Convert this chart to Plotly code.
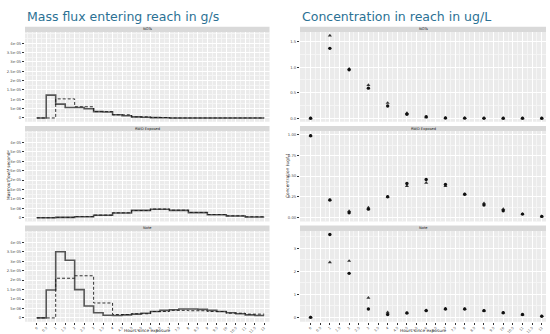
import plotly.graph_objects as go

W, H = 550, 334

# ---------------- data ----------------
HOURS = [0, 0.5, 1, 1.5, 2, 2.5, 3, 3.5, 4, 4.5, 5, 5.5, 6, 6.5, 7, 7.5,
         8, 8.5, 9, 9.5, 10, 10.5, 11, 11.5, 12]
HOUR_LABELS = ["0", "0.5", "1", "1.5", "2", "2.5", "3", "3.5", "4", "4.5", "5",
               "5.5", "6", "6.5", "7", "7.5", "8", "8.5", "9", "9.5", "10",
               "10.5", "11", "11.5", "12"]
SAMPLE_HOURS = [0, 1, 2, 3, 4, 5, 6, 7, 8, 9, 10, 11, 12]

PANELS = ["NOTs", "RWD Exposed", "Note"]

# mass flux entering reach (g/s), step values starting at each half hour
flux_model_1 = [0, 12.2e-6, 7.4e-6, 5.6e-6, 5.6e-6, 4.9e-6, 3.4e-6, 3.2e-6, 1.7e-6,
                1.2e-6, 0.6e-6, 0.4e-6, 0.2e-6, 0.1e-6, 0, 0, 0, 0, 0, 0, 0, 0, 0, 0, 0]
flux_obs_1 = [0, 0, 10.2e-6, 10.2e-6, 6.0e-6, 6.0e-6, 3.4e-6, 3.4e-6, 1.7e-6, 1.7e-6,
              0.6e-6, 0.6e-6, 0.25e-6, 0.25e-6, 0, 0, 0, 0, 0, 0, 0, 0, 0, 0, 0]
flux_model_2 = [0, 0, 0.2e-6, 0.2e-6, 0.5e-6, 0.5e-6, 1.3e-6, 1.3e-6, 2.5e-6, 2.5e-6,
                3.9e-6, 3.9e-6, 4.5e-6, 4.5e-6, 3.9e-6, 3.9e-6, 2.7e-6, 2.7e-6,
                1.6e-6, 1.6e-6, 0.9e-6, 0.9e-6, 0.4e-6, 0.4e-6, 0.4e-6]
flux_obs_2 = [0, 0, 0.2e-6, 0.2e-6, 0.6e-6, 0.6e-6, 1.4e-6, 1.4e-6, 2.6e-6, 2.6e-6,
              3.8e-6, 3.8e-6, 4.6e-6, 4.6e-6, 4.0e-6, 4.0e-6, 2.8e-6, 2.8e-6,
              1.7e-6, 1.7e-6, 1.0e-6, 1.0e-6, 0.5e-6, 0.5e-6, 0.5e-6]
flux_model_3 = [0, 14.8e-6, 35.0e-6, 30.5e-6, 15.0e-6, 6.3e-6, 2.7e-6, 1.4e-6, 1.3e-6,
                1.6e-6, 2.0e-6, 2.5e-6, 3.4e-6, 4.0e-6, 4.3e-6, 4.7e-6, 4.7e-6,
                4.5e-6, 4.0e-6, 3.4e-6, 2.7e-6, 2.2e-6, 1.6e-6, 1.3e-6, 1.3e-6]
flux_obs_3 = [0, 0, 21.0e-6, 21.0e-6, 22.3e-6, 22.3e-6, 7.9e-6, 7.9e-6, 1.8e-6, 1.8e-6,
              2.2e-6, 2.2e-6, 3.4e-6, 3.4e-6, 4.0e-6, 4.0e-6, 3.8e-6, 3.8e-6,
              3.4e-6, 3.4e-6, 2.5e-6, 2.5e-6, 2.0e-6, 2.0e-6, 2.0e-6]

# concentration in reach (ug/L) at hourly samples
conc_a_1 = [0.0, 1.37, 0.95, 0.59, 0.24, 0.08, 0.03, 0.005, 0.003, 0.002, 0.001, 0.0, 0.0]
conc_b_1 = [0.0, 1.62, 0.97, 0.65, 0.30, 0.10, 0.02, 0.005, 0.003, 0.002, 0.001, 0.0, 0.0]
conc_a_2 = [0.99, 0.21, 0.056, 0.10, 0.25, 0.41, 0.46, 0.40, 0.28, 0.15, 0.08, 0.04, 0.012]
conc_b_2 = [0.99, 0.21, 0.077, 0.12, 0.25, 0.38, 0.42, 0.38, 0.28, 0.17, 0.10, 0.04, 0.012]
conc_a_3 = [0.0, 3.6, 1.91, 0.36, 0.12, 0.19, 0.29, 0.36, 0.36, 0.29, 0.20, 0.12, 0.05]
conc_b_3 = [0.0, 2.39, 2.45, 0.85, 0.22, 0.19, 0.31, 0.38, 0.36, 0.29, 0.20, 0.12, 0.05]

FLUX_TICKS = [0, 5e-6, 1e-5, 1.5e-5, 2e-5, 2.5e-5, 3e-5, 3.5e-5, 4e-5]
FLUX_TICK_TEXT = ["0", "5e-06", "1e-05", "1.5e-05", "2e-05", "2.5e-05", "3e-05", "3.5e-05", "4e-05"]
CONC_TICKS = [[0, 0.5, 1.0, 1.5], [0, 0.25, 0.5, 0.75, 1.0], [0, 1, 2, 3]]
CONC_TICK_TEXT = [["0.0", "0.5", "1.0", "1.5"], ["0.00", "0.25", "0.50", "0.75", "1.00"],
                  ["0", "1", "2", "3"]]
CONC_RANGES = [[-0.067, 1.69], [-0.05, 1.047], [-0.19, 3.75]]
CONC_MINOR = [0.25, 0.125, 0.5]

# ---------------- layout helpers ----------------
def px(x):
    return x / W


def py(y):
    return 1 - y / H


PANEL_Y = [(32, 121.7), (131, 221.5), (231, 321.7)]
STRIP_Y = [(26.8, 32), (126, 131), (225.5, 231)]
LEFT_X = (25, 269.5)
RIGHT_X = (300, 546)

PANEL_BG = "#EBEBEB"
STRIP_BG = "#D9D9D9"
TICK_FONT = dict(family="DejaVu Sans", size=3.8, color="#4D4D4D")
XTICK_FONT = dict(family="DejaVu Sans", size=3.4, color="#4D4D4D")

fig = go.Figure()

flux_model = [flux_model_1, flux_model_2, flux_model_3]
flux_obs = [flux_obs_1, flux_obs_2, flux_obs_3]
conc_a = [conc_a_1, conc_a_2, conc_a_3]
conc_b = [conc_b_1, conc_b_2, conc_b_3]

layout = dict(
    width=W, height=H, margin=dict(l=0, r=0, t=0, b=0),
    paper_bgcolor="white", plot_bgcolor="white", showlegend=False,
)
shapes = []
annotations = []

for i in range(3):
    # left column: flux step lines
    lx = i + 1
    rx = i + 4
    xa = "x" if lx == 1 else f"x{lx}"
    ya = "y" if lx == 1 else f"y{lx}"
    fig.add_trace(go.Scatter(x=HOURS, y=flux_model[i], mode="lines", xaxis=xa, yaxis=ya,
                             line=dict(shape="hv", color="#555555", width=1.6)))
    fig.add_trace(go.Scatter(x=HOURS, y=flux_obs[i], mode="lines", xaxis=xa, yaxis=ya,
                             line=dict(shape="hv", color="#1A1A1A", width=0.9, dash="3px,2px")))
    # right column: concentration points
    xb = f"x{rx}"
    yb = f"y{rx}"
    fig.add_trace(go.Scatter(x=SAMPLE_HOURS, y=conc_b[i], mode="markers", xaxis=xb, yaxis=yb,
                             marker=dict(symbol="triangle-up", size=3.6, color="#333333",
                                         line=dict(width=0))))
    fig.add_trace(go.Scatter(x=SAMPLE_HOURS, y=conc_a[i], mode="markers", xaxis=xb, yaxis=yb,
                             marker=dict(symbol="circle", size=3.4, color="#111111",
                                         line=dict(width=0))))

    bottom = (i == 2)
    for col, (x0, x1), n, rng in [("L", LEFT_X, lx, [-0.62, 12.28]),
                                  ("R", RIGHT_X, rx, [-0.55, 12.22])]:
        key = "xaxis" if n == 1 else f"xaxis{n}"
        ykey = "yaxis" if n == 1 else f"yaxis{n}"
        anchor_y = "y" if n == 1 else f"y{n}"
        anchor_x = "x" if n == 1 else f"x{n}"
        layout[key] = dict(
            domain=[px(x0), px(x1)], anchor=anchor_y, range=rng,
            tickmode="array", tickvals=HOURS, ticktext=HOUR_LABELS,
            showticklabels=bottom, ticks="outside" if bottom else "",
            ticklen=2, tickwidth=0.5, tickcolor="#333333",
            tickangle=-45, tickfont=XTICK_FONT,
            showgrid=True, gridcolor="white", gridwidth=0.6,
            minor=dict(dtick=0.25, tick0=0, showgrid=True, gridcolor="#F5F5F5", gridwidth=0.3),
            zeroline=False, showline=False, fixedrange=True,
        )
        if col == "L":
            yd = dict(range=[-2.0e-6, 4.6e-5], tickvals=FLUX_TICKS, ticktext=FLUX_TICK_TEXT,
                      minor=dict(dtick=2.5e-6, tick0=0, showgrid=True,
                                 gridcolor="#F5F5F5", gridwidth=0.3))
        else:
            yd = dict(range=CONC_RANGES[i], tickvals=CONC_TICKS[i], ticktext=CONC_TICK_TEXT[i],
                      minor=dict(dtick=CONC_MINOR[i], tick0=0, showgrid=True,
                                 gridcolor="#F5F5F5", gridwidth=0.3))
        layout[ykey] = dict(
            domain=[py(PANEL_Y[i][1]), py(PANEL_Y[i][0])], anchor=anchor_x,
            tickmode="array", ticks="outside", ticklen=2, tickwidth=0.5,
            tickcolor="#333333", tickfont=TICK_FONT,
            showgrid=True, gridcolor="white", gridwidth=0.6,
            zeroline=False, showline=False, fixedrange=True, **yd,
        )
        # panel background and facet strip
        shapes.append(dict(type="rect", xref="paper", yref="paper", layer="below",
                           x0=px(x0), x1=px(x1), y0=py(PANEL_Y[i][1]), y1=py(PANEL_Y[i][0]),
                           fillcolor=PANEL_BG, line=dict(width=0)))
        shapes.append(dict(type="rect", xref="paper", yref="paper",
                           x0=px(x0), x1=px(x1), y0=py(STRIP_Y[i][1]), y1=py(STRIP_Y[i][0]),
                           fillcolor=STRIP_BG, line=dict(width=0)))
        annotations.append(dict(x=px((x0 + x1) / 2), y=py((STRIP_Y[i][0] + STRIP_Y[i][1]) / 2),
                                xref="paper", yref="paper", text=PANELS[i], showarrow=False,
                                font=dict(family="DejaVu Sans", size=3.6, color="#1A1A1A"),
                                xanchor="center", yanchor="middle"))

# titles
TITLE_FONT = dict(family="DejaVu Sans", size=12.5, color="#2B7194")
annotations.append(dict(x=px(25), y=py(16), xref="paper", yref="paper",
                        text="Mass flux entering reach in g/s", showarrow=False,
                        xanchor="left", yanchor="middle", font=TITLE_FONT))
annotations.append(dict(x=px(300), y=py(16), xref="paper", yref="paper",
                        text="Concentration in reach in ug/L", showarrow=False,
                        xanchor="left", yanchor="middle", font=TITLE_FONT))

# axis titles
AXIS_FONT = dict(family="DejaVu Sans", size=4.3, color="#1A1A1A")
for cx in [(LEFT_X[0] + LEFT_X[1]) / 2, (RIGHT_X[0] + RIGHT_X[1]) / 2]:
    annotations.append(dict(x=px(cx), y=0, xref="paper", yref="paper",
                            text="Hours since exposure", showarrow=False, borderpad=0,
                            xanchor="center", yanchor="bottom", font=AXIS_FONT))
annotations.append(dict(x=px(8), y=py(176), xref="paper", yref="paper",
                        text="Mass outflow / second", showarrow=False, textangle=-90,
                        xanchor="center", yanchor="middle", font=AXIS_FONT))
annotations.append(dict(x=px(287), y=py(176), xref="paper", yref="paper",
                        text="Concentration (ug/L)", showarrow=False, textangle=-90,
                        xanchor="center", yanchor="middle", font=AXIS_FONT))

layout["shapes"] = shapes
layout["annotations"] = annotations
fig.update_layout(**layout)

fig.write_html("out.html", config={"displayModeBar": False})
